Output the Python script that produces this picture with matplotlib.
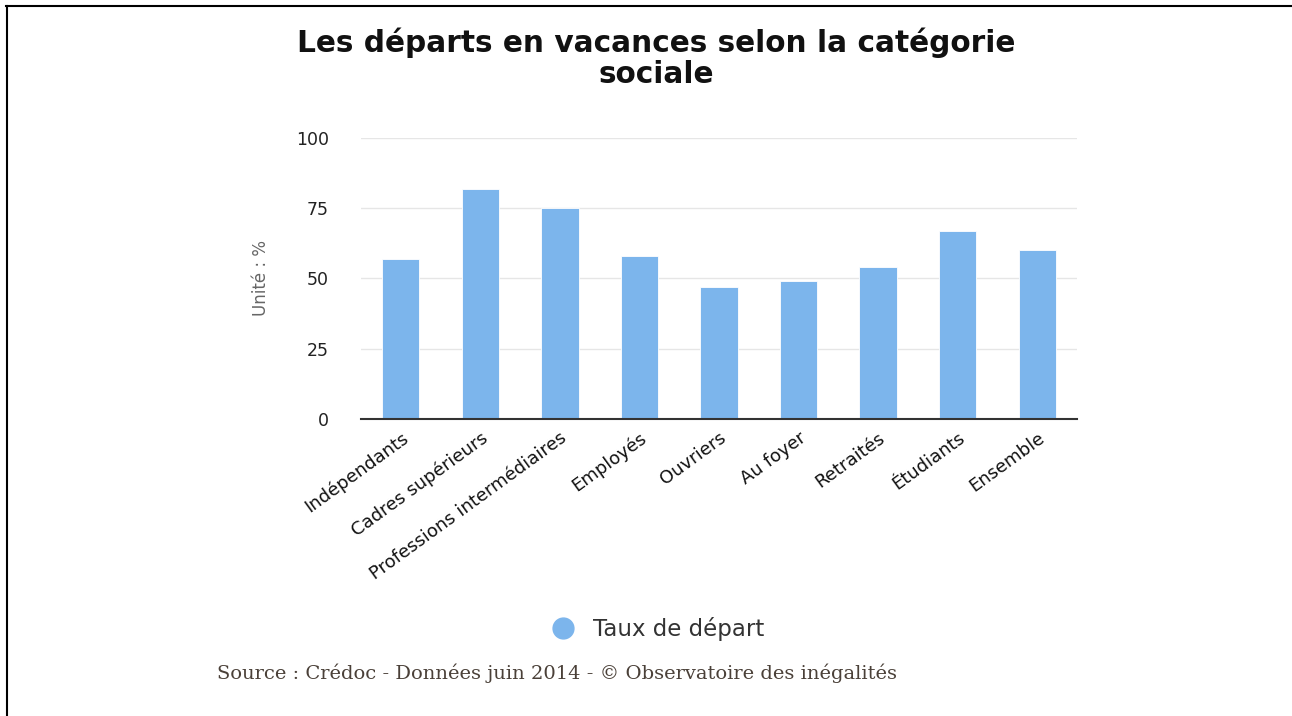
import matplotlib.pyplot as plt
from matplotlib.lines import Line2D

# --- Data ---
categories = ["Indépendants", "Cadres supérieurs", "Professions intermédiaires",
              "Employés", "Ouvriers", "Au foyer", "Retraités", "Étudiants", "Ensemble"]
taux_depart = [57, 82, 75, 58, 47, 49, 54, 67, 60]
y_ticks = [0, 25, 50, 75, 100]

bar_color = "#7cb5ec"

fig = plt.figure(figsize=(12.92, 7.16), dpi=100)
ax = fig.add_axes([0.2794, 0.4148, 0.5542, 0.3925])

x = list(range(len(categories)))
ax.bar(x, taux_depart, width=0.47, color=bar_color, edgecolor="white", linewidth=0.6, zorder=3)

ax.set_xlim(-0.5, len(categories) - 0.5)
ax.set_ylim(0, 100)
ax.set_yticks(y_ticks)
ax.set_yticklabels([str(t) for t in y_ticks], fontsize=12.5, color="#222222",
                   family="DejaVu Sans")
ax.tick_params(axis="y", length=0, pad=23)
ax.tick_params(axis="x", length=0, pad=7)
ax.grid(axis="y", color="#e6e6e6", linewidth=1, zorder=0)

for side in ["top", "right", "left"]:
    ax.spines[side].set_visible(False)
ax.spines["bottom"].set_color("#333333")
ax.spines["bottom"].set_linewidth(1.5)
ax.spines["bottom"].set_zorder(4)

ax.set_xticks(x)
ax.set_xticklabels(categories, rotation=36, ha="right", va="top",
                   rotation_mode="anchor", fontsize=13, color="#111111",
                   family="DejaVu Sans")

ax.set_ylabel("Unité : %", fontsize=12, color="#666666", labelpad=19)

# title
fig.text(0.508, 0.962, "Les départs en vacances selon la catégorie\nsociale",
         ha="center", va="top", fontsize=21.3, fontweight="bold", color="#111111",
         family="DejaVu Sans", linespacing=1.1)

# legend
handle = Line2D([], [], marker="o", linestyle="none", markersize=15,
                markerfacecolor=bar_color, markeredgecolor=bar_color)
fig.legend([handle], ["Taux de départ"], loc="center", bbox_to_anchor=(0.505, 0.122),
           frameon=False, handletextpad=0.3, labelcolor="#333333",
           prop={"family": "DejaVu Sans", "size": 16.5})

# source
fig.text(0.168, 0.06, "Source : Crédoc - Données juin 2014 - © Observatoire des inégalités",
         ha="left", va="center", fontsize=14, family="DejaVu Serif", color="#4a4038")

# frame lines (top and left)
fig.add_artist(Line2D([0.0046, 1.0], [0.9916, 0.9916], transform=fig.transFigure,
                      color="black", linewidth=1.5))
fig.add_artist(Line2D([0.0054, 0.0054], [0.0, 0.9916], transform=fig.transFigure,
                      color="black", linewidth=1.5))

fig.savefig("out.png", dpi=100, facecolor="white")
